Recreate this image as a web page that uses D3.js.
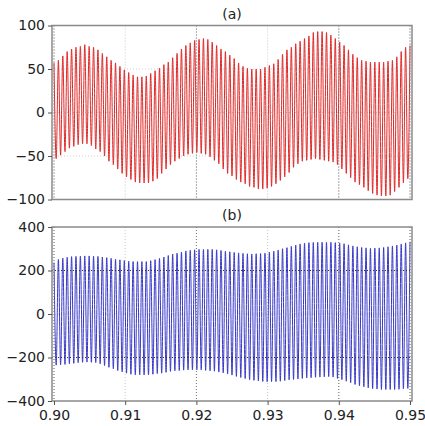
<!DOCTYPE html>
<html>
<head>
<meta charset="utf-8">
<script src="https://cdn.jsdelivr.net/npm/d3@7"></script>
<style>
  body { margin: 0; background: #fff; }
  text { font-family: "DejaVu Sans", Verdana, sans-serif; font-size: 14px; fill: #222; }
</style>
</head>
<body>
<div id="chart"></div>
<script>
// per-cycle maxima / minima, 0.90 s .. 0.95 s
const peaksA = [57, 60, 65, 70, 73, 75, 76, 78, 76, 75, 72, 68, 64, 60, 57, 53, 49, 46, 43, 41,
  41, 42, 45, 48, 51, 55, 58, 63, 68, 73, 77, 80, 83, 84, 85, 84, 81, 77, 73, 70,
  66, 62, 57, 53, 51, 50, 50, 50, 52, 54, 56, 61, 67, 72, 75, 79, 82, 85, 88, 92,
  93, 93, 92, 89, 85, 81, 77, 72, 67, 63, 60, 59, 58, 58, 58, 58, 59, 60, 64, 70,
  75, 77];
const troughsA = [-53, -49, -45, -41, -39, -37, -36, -36, -38, -42, -45, -50, -56, -60, -65, -70, -74, -77, -80, -81,
  -81, -81, -79, -76, -70, -65, -60, -56, -53, -50, -48, -47, -46, -47, -48, -51, -55, -59, -65, -70,
  -73, -77, -80, -82, -85, -86, -88, -88, -87, -85, -82, -78, -74, -69, -63, -59, -56, -55, -54, -53,
  -54, -55, -56, -57, -60, -65, -70, -75, -80, -83, -86, -90, -93, -95, -96, -96, -95, -91, -86, -81,
  -76];
const peaksB = [236, 251, 257, 261, 264, 265, 266, 267, 267, 266, 265, 262, 259, 256, 252, 249, 246, 243, 241, 241,
  241, 241, 245, 250, 256, 262, 269, 276, 280, 285, 290, 293, 295, 297, 297, 297, 297, 295, 292, 289,
  286, 283, 281, 279, 277, 276, 277, 278, 280, 285, 289, 294, 300, 305, 311, 317, 322, 326, 328, 329,
  330, 330, 330, 330, 328, 326, 323, 318, 313, 309, 306, 304, 302, 303, 304, 306, 309, 313, 317, 322,
  327, 332];
const troughsB = [-235, -234, -232, -229, -227, -224, -222, -221, -222, -224, -229, -237, -245, -252, -260, -266, -272, -277, -280, -280,
  -280, -280, -277, -274, -272, -268, -264, -261, -260, -258, -257, -257, -257, -257, -259, -261, -263, -267, -271, -276,
  -281, -287, -292, -297, -302, -305, -308, -310, -311, -311, -311, -309, -306, -303, -301, -299, -296, -294, -293, -291,
  -290, -289, -288, -290, -296, -302, -309, -316, -324, -330, -335, -340, -343, -345, -347, -347, -347, -347, -346, -344,
  -342];

const xTicks = [0.90, 0.91, 0.92, 0.93, 0.94, 0.95];
const yTicksA = [-100, -50, 0, 50, 100];
const yTicksB = [-400, -200, 0, 200, 400];

const w = 425, h = 426;
const t0 = 0.90, t1 = 0.95;

const svg = d3.select('#chart').append('svg').attr('width', w).attr('height', h);
const x = d3.scaleLinear().domain([t0, t1]).range([54, 410]);

// interleave max / min, half a cycle apart
function toSamples(peaks, troughs) {
  const dt = (t1 - t0) / (2 * (peaks.length - 1));
  const out = [];
  peaks.forEach((p, i) => {
    out.push([t0 + 2 * i * dt, p]);
    if (i < troughs.length) out.push([t0 + (2 * i + 1) * dt, troughs[i]]);
  });
  return out;
}

function panel(id, top, bottom, yTicks, data, color, label, showX) {
  const y = d3.scaleLinear().domain([yTicks[0], yTicks[yTicks.length - 1]]).range([bottom, top]);
  const left = x(t0) - 2, right = x(t1) + 2;
  const g = svg.append('g');

  g.append('clipPath').attr('id', id).append('rect')
    .attr('x', left).attr('y', top).attr('width', right - left).attr('height', bottom - top);

  // light grid
  g.selectAll('.gx').data(xTicks).enter().append('line')
    .attr('x1', d => x(d)).attr('x2', d => x(d)).attr('y1', top).attr('y2', bottom)
    .attr('stroke', '#c8c8c8').attr('stroke-width', 1).attr('stroke-dasharray', '1,2');
  g.selectAll('.gy').data(yTicks.slice(1, -1)).enter().append('line')
    .attr('x1', left).attr('x2', right).attr('y1', d => y(d)).attr('y2', d => y(d))
    .attr('stroke', '#d0d0d0').attr('stroke-width', 1).attr('stroke-dasharray', '1,2');

  const line = d3.line().x(d => x(d[0])).y(d => y(d[1])).curve(d3.curveMonotoneX);
  g.append('path').datum(data)
    .attr('clip-path', 'url(#' + id + ')')
    .attr('d', line).attr('fill', 'none').attr('stroke', color).attr('stroke-width', 1);

  // darker grid drawn over the trace
  const dark = xTicks.filter((d, i) => i % 2 === 0 || i === xTicks.length - 1);
  g.selectAll('.dx').data(dark).enter().append('line')
    .attr('x1', d => x(d)).attr('x2', d => x(d)).attr('y1', top).attr('y2', bottom)
    .attr('stroke', '#777').attr('stroke-width', 1).attr('stroke-dasharray', '1,2');
  if (id === 'clipB') {
    g.selectAll('.dy').data([-200, 200]).enter().append('line')
      .attr('x1', left).attr('x2', right).attr('y1', d => y(d)).attr('y2', d => y(d))
      .attr('stroke', '#333').attr('stroke-width', 1).attr('stroke-dasharray', '1,2');
  }

  g.append('rect').attr('x', left).attr('y', top).attr('width', right - left).attr('height', bottom - top)
    .attr('fill', 'none').attr('stroke', '#8a8a8a').attr('stroke-width', 1.5);

  const yAxis = d3.axisLeft(y).tickValues(yTicks).tickSize(4).tickPadding(3).tickFormat(d3.format('d'));
  const ya = g.append('g').attr('transform', 'translate(' + left + ',0)').call(yAxis);
  ya.select('.domain').remove();
  ya.selectAll('line').attr('stroke', '#555');
  ya.selectAll('text').style('font-size', '14px').attr('fill', '#222');

  if (showX) {
    const xAxis = d3.axisBottom(x).tickValues(xTicks).tickSize(4).tickPadding(5).tickFormat(d3.format('.2f'));
    const xa = g.append('g').attr('transform', 'translate(0,' + bottom + ')').call(xAxis);
    xa.select('.domain').remove();
    xa.selectAll('line').attr('stroke', '#555');
    xa.selectAll('text').style('font-size', '14px').attr('fill', '#222');
  }

  g.append('text').attr('x', (left + right) / 2).attr('y', top - 7)
    .attr('text-anchor', 'middle').text(label);
}

panel('clipA', 25.5, 199.5, yTicksA, toSamples(peaksA, troughsA), '#e02828', '(a)', false);
panel('clipB', 227, 401, yTicksB, toSamples(peaksB, troughsB), '#3838c8', '(b)', true);
</script>
</body>
</html>
